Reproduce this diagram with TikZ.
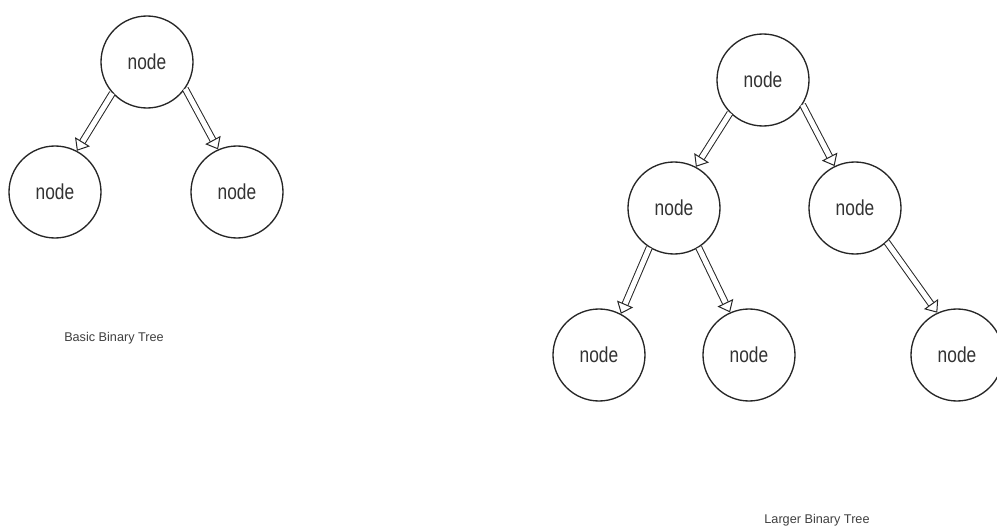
\documentclass[tikz,border=0pt]{standalone}
\usepackage{fontspec}
\setmainfont{Liberation Sans}
\usetikzlibrary{arrows.meta}
\begin{document}
\begin{tikzpicture}[x=0.75pt,y=-0.75pt,
  tnode/.style={circle,draw=black!85,line width=1pt,minimum size=69pt,inner sep=0pt,
    font=\fontsize{13}{15}\selectfont,text=black!80},
  tarrow/.style={draw=black!85,double=white,double distance=3.8pt,line width=0.75pt,
    -{Triangle[open,length=8pt,width=13pt,line width=0.75pt]}},
  captext/.style={font=\fontsize{9.5}{11}\selectfont,text=black!75}]
\useasboundingbox[fill=white] (0,0) rectangle (997,528);
% left tree
\node[tnode] (a) at (147,62) {\scalebox{1}[1.25]{node}};
\node[tnode] (b) at (55,192) {\scalebox{1}[1.25]{node}};
\node[tnode] (c) at (237,192) {\scalebox{1}[1.25]{node}};
\draw[tarrow] (a.222) -- (b.62);
\draw[tarrow] (a.325) -- (c.114);
\node[captext] (capl) at (114,338) {Basic Binary Tree};
% right tree
\node[tnode] (r) at (763,80) {\scalebox{1}[1.25]{node}};
\node[tnode] (ml) at (674,208) {\scalebox{1}[1.25]{node}};
\node[tnode] (mr) at (855,208) {\scalebox{1}[1.25]{node}};
\node[tnode] (bl) at (599,355) {\scalebox{1}[1.25]{node}};
\node[tnode] (bm) at (749,355) {\scalebox{1}[1.25]{node}};
\node[tnode] (br) at (957,355) {\scalebox{1}[1.25]{node}};
\draw[tarrow] (r.225) -- (ml.62);
\draw[tarrow] (r.328) -- (mr.116);
\draw[tarrow] (ml.238) -- (bl.62);
\draw[tarrow] (ml.302) -- (bm.114);
\draw[tarrow] (mr.313) -- (br.115);
\node[captext] (capr) at (817,520) {Larger Binary Tree};
\end{tikzpicture}
\end{document}
